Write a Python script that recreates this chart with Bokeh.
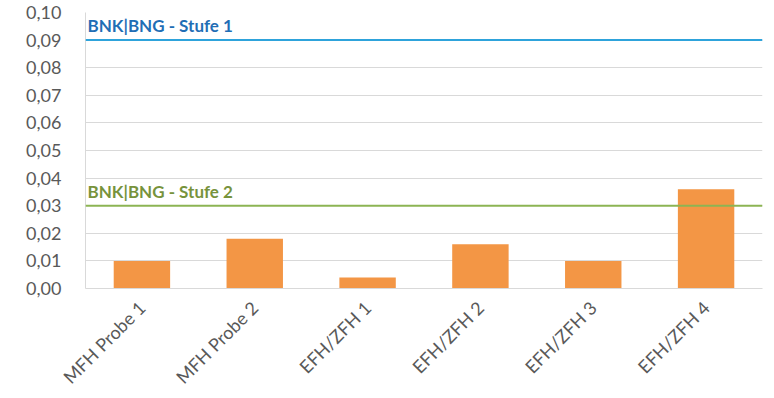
from bokeh.plotting import figure
from bokeh.models import Range1d, FactorRange, Span, Label, CustomJSTickFormatter, SingleIntervalTicker, ColumnDataSource
from bokeh.embed import file_html
from bokeh.resources import INLINE
import math

categories = ["MFH Probe 1", "MFH Probe 2", "EFH/ZFH 1", "EFH/ZFH 2", "EFH/ZFH 3", "EFH/ZFH 4"]
values = [0.010, 0.018, 0.004, 0.016, 0.010, 0.036]
threshold_values = [0.09, 0.03]
threshold_labels = ["BNK|BNG - Stufe 1", "BNK|BNG - Stufe 2"]
threshold_line_colors = ["#2EA3DB", "#8CB453"]
threshold_text_colors = ["#1F6EB5", "#77933C"]

p = figure(width=774, height=398, output_backend="svg", toolbar_location=None,
           x_range=FactorRange(*categories, range_padding=0), y_range=Range1d(0, 0.10),
           min_border_left=85, min_border_right=12, min_border_top=12, min_border_bottom=109)
p.outline_line_color = None
p.background_fill_color = "white"

src = ColumnDataSource(dict(cat=categories, val=values))
p.vbar(x="cat", top="val", width=0.5, source=src, fill_color="#F39645", line_color=None)

for v, lab, lc, tc in zip(threshold_values, threshold_labels, threshold_line_colors, threshold_text_colors):
    p.add_layout(Span(location=v, dimension="width", line_color=lc, line_width=2))
    p.add_layout(Label(x=2, x_units="screen", y=v, text=lab, text_color=tc,
                       text_font="Lato", text_font_style="bold", text_font_size="17px",
                       y_offset=4))

p.yaxis.ticker = SingleIntervalTicker(interval=0.01)
p.yaxis.formatter = CustomJSTickFormatter(code="return tick.toFixed(2).replace('.', ',');")
for ax in (p.xaxis, p.yaxis):
    ax.major_tick_line_color = None
    ax.minor_tick_line_color = None
    ax.axis_line_color = "#D9D9D9"
    ax.major_label_text_color = "#595959"
    ax.major_label_text_font = "Lato"
p.yaxis.major_label_text_font_size = "18px"
p.yaxis.major_label_standoff = 18
p.xaxis.major_label_text_font_size = "18px"
p.xaxis.major_label_standoff = 10
p.xaxis.major_label_orientation = math.pi / 4
p.xgrid.grid_line_color = None
p.ygrid.grid_line_color = "#D9D9D9"
p.ygrid.grid_line_width = 1

open("out.html", "w").write(file_html(p, INLINE))
